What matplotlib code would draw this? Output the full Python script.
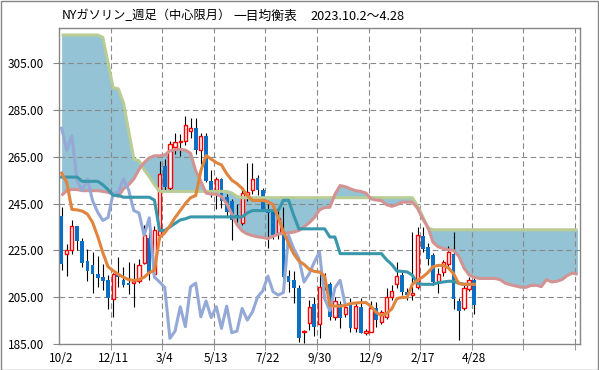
import numpy as np
import matplotlib.pyplot as plt
from matplotlib.patches import Rectangle

plt.rcParams['font.family'] = ['Noto Sans CJK JP', 'DejaVu Sans']

# title pieces (placed separately so the gaps match the original)
title_parts = ["NYガソリン_週足（中心限月）", "一目均衡表", "2023.10.2～4.28"]

# x labels, every 10 weeks
xlabels = ["10/2", "12/11", "3/4", "5/13", "7/22", "9/30", "12/9", "2/17", "4/28"]

# weekly candles (index 0..80)
opens = [239.5, 223.6, 225.0, 235.2, 229.2, 220.3, 218.6, 214.8, 213.5, 212.5,
         204.3, 214.4, 212.2, 211.0, 211.0, 211.8, 219.8, 230.2, 215.0, 231.5,
         261.2, 251.5, 269.3, 271.2, 271.8, 276.1, 277.2, 267.8, 273.9, 254.8,
         250.8, 255.5, 247.7, 246.3, 240.0, 236.6, 248.7, 250.8, 255.9, 250.8,
         242.0, 241.6, 232.4, 232.8, 213.9, 212.5, 209.1, 190.0, 193.8, 202.0,
         193.4, 209.4, 210.8, 196.6, 202.0, 198.0, 201.6, 191.7, 200.9, 189.8,
         190.2, 200.2, 194.5, 196.6, 205.1, 210.5, 214.3, 207.3, 206.0, 209.4,
         231.0, 226.4, 222.9, 211.5, 215.8, 219.3, 223.6, 203.4, 200.2, 208.3,
         212.2]
highs = [243.5, 227.8, 237.8, 235.5, 230.3, 225.6, 224.3, 222.4, 219.3, 214.5,
         215.3, 222.2, 217.9, 220.0, 219.8, 221.5, 236.0, 233.0, 235.6, 263.3,
         264.0, 271.8, 275.3, 274.6, 282.4, 281.5, 281.7, 275.3, 275.0, 259.3,
         256.5, 256.0, 249.0, 247.0, 244.9, 252.0, 262.2, 262.2, 257.0, 251.5,
         245.0, 245.0, 242.0, 243.4, 216.5, 216.0, 210.0, 190.8, 203.7, 205.0,
         215.1, 215.5, 211.5, 205.1, 203.5, 203.0, 204.5, 203.0, 204.5, 191.5,
         203.5, 203.0, 199.5, 209.0, 210.1, 220.0, 216.0, 209.0, 232.8, 234.9,
         234.9, 228.0, 224.0, 217.5, 221.0, 226.7, 232.8, 204.5, 210.0, 213.5,
         213.0]
lows = [216.5, 214.0, 223.6, 225.0, 217.9, 211.8, 206.8, 209.4, 208.0, 199.8,
        196.6, 209.4, 209.5, 206.3, 200.9, 211.0, 219.0, 212.2, 213.9, 230.0,
        250.8, 250.0, 266.1, 265.4, 270.0, 273.2, 266.1, 261.9, 254.1, 247.7,
        242.7, 243.0, 239.5, 229.5, 236.6, 236.0, 246.0, 249.0, 248.5, 242.0,
        226.0, 230.0, 229.9, 213.0, 207.3, 202.6, 186.0, 185.3, 191.0, 188.6,
        187.6, 208.0, 195.2, 195.2, 191.7, 196.5, 190.2, 190.2, 189.5, 189.0,
        190.0, 192.4, 193.5, 195.5, 204.0, 209.0, 205.9, 203.7, 203.7, 208.5,
        224.5, 218.6, 210.0, 206.6, 214.0, 218.0, 199.8, 186.7, 199.5, 207.5,
        198.0]
closes = [219.0, 225.0, 235.2, 229.0, 219.8, 216.2, 215.0, 213.4, 212.1, 204.7,
          214.7, 213.7, 210.2, 210.2, 211.8, 218.6, 231.4, 215.0, 233.9, 257.6,
          252.0, 270.4, 271.4, 271.8, 278.6, 277.2, 267.8, 273.9, 254.8, 250.5,
          255.5, 246.3, 241.3, 237.8, 239.0, 249.4, 249.8, 255.5, 250.8, 242.0,
          241.0, 231.4, 238.9, 213.6, 211.5, 209.1, 187.4, 190.5, 200.9, 192.4,
          209.4, 211.0, 196.6, 203.4, 196.3, 200.9, 191.7, 201.2, 189.8, 190.5,
          200.2, 195.2, 198.7, 205.1, 207.7, 214.0, 207.3, 205.9, 207.0, 231.4,
          225.7, 221.5, 211.5, 215.0, 220.0, 224.3, 204.4, 199.2, 209.1, 212.2,
          201.6]

# conversion line (tenkan) and base line (kijun), index 0..80
tenkan = [258.0, 254.0, 242.5, 242.3, 241.8, 240.5, 237.0, 231.0, 224.0, 218.0,
          216.3, 214.8, 213.5, 212.5, 212.2, 212.5, 213.5, 215.5, 216.5, 230.5,
          232.5, 235.5, 239.0, 242.0, 245.0, 247.5, 248.4, 259.0, 265.5, 264.0,
          262.5, 261.5, 257.8, 255.0, 253.5, 251.5, 248.5, 246.3, 246.3, 246.3,
          245.8, 244.5, 239.0, 233.0, 228.0, 223.5, 220.5, 219.0, 217.0, 216.0,
          215.8, 214.0, 201.5, 201.2, 201.2, 201.5, 202.3, 202.5, 202.7, 202.7,
          201.0, 198.5, 197.2, 198.0, 200.0, 204.4, 204.9, 205.0, 210.5, 212.2,
          213.6, 215.5, 218.0, 218.6, 218.6, 217.5, 215.0, 210.8, 210.5, 210.5,
          210.5]
kijun = [256.3, 256.3, 256.3, 256.3, 254.5, 254.5, 254.5, 254.5, 253.0, 251.0,
         248.5, 248.5, 247.7, 247.7, 247.7, 247.7, 247.7, 247.7, 246.5, 233.5,
         233.5, 235.0, 236.5, 238.0, 238.5, 239.3, 239.3, 239.3, 239.3, 239.3,
         239.3, 239.3, 239.3, 239.3, 239.3, 239.3, 241.0, 242.0, 242.0, 242.0,
         242.0, 242.0, 242.0, 246.4, 246.4, 240.0, 234.2, 234.2, 234.2, 234.2,
         234.2, 234.2, 230.7, 230.7, 223.6, 223.6, 223.6, 223.6, 223.6, 223.6,
         223.6, 223.6, 223.6, 221.0, 219.0, 216.2, 216.0, 215.8, 214.4, 210.8,
         210.5, 210.5, 210.5, 211.2, 211.5, 211.8, 211.8, 211.0, 210.5, 210.5,
         210.5]

# leading span A and B, index 0..100
span_a = [248.5, 250.5, 251.0, 251.0, 250.5, 250.5, 250.5, 250.5, 250.2, 249.8,
          249.0, 248.0, 251.3, 253.0, 255.5, 259.5, 262.5, 264.5, 265.4, 265.4,
          265.8, 267.5, 268.0, 268.2, 267.8, 266.5, 259.0, 254.5, 249.5, 249.0,
          249.0, 248.0, 245.0, 240.5, 236.0, 233.3, 232.0, 231.3, 230.8, 230.5,
          230.0, 231.0, 232.0, 232.2, 232.5, 232.8, 233.5, 235.0, 236.8, 239.0,
          242.3, 243.3, 243.4, 249.0, 252.7, 252.2, 251.3, 250.5, 250.2, 249.5,
          247.0, 246.5, 246.3, 244.5, 243.8, 244.5, 245.6, 245.6, 245.6, 243.0,
          238.5, 235.0, 228.5, 226.5, 225.8, 225.2, 225.0, 222.5, 217.5, 214.5,
          213.5, 213.0, 213.0, 213.0, 213.0, 212.5, 211.0, 210.3, 209.8, 209.3,
          209.2, 210.0, 210.1, 209.5, 212.5, 211.5, 211.8, 212.5, 214.2, 215.3,
          214.8]
span_b = [317.0, 317.0, 317.0, 317.0, 317.0, 317.0, 317.0, 317.0, 316.0, 305.0,
          294.5, 294.0, 288.0, 276.0, 264.0, 263.3, 259.5, 256.5, 253.0, 250.2,
          250.2, 250.2, 250.2, 250.2, 250.2, 250.2, 250.2, 250.2, 250.2, 250.2,
          250.2, 250.2, 250.2, 249.5, 248.0, 247.5, 247.5, 247.5, 247.5, 247.5,
          247.5, 247.5, 247.5, 247.5, 247.5, 247.5, 247.5, 247.5, 247.5, 247.5,
          247.5, 247.5, 247.5, 247.5, 247.5, 247.5, 247.5, 247.5, 247.5, 247.5,
          247.5, 247.5, 247.5, 247.5, 247.5, 247.5, 247.5, 247.5, 247.5, 244.0,
          239.5, 234.5, 233.8, 233.8, 233.8, 233.8, 233.8, 233.8, 233.8, 233.8,
          233.8, 233.8, 233.8, 233.8, 233.8, 233.8, 233.8, 233.8, 233.8, 233.8,
          233.8, 233.8, 233.8, 233.8, 233.8, 233.8, 233.8, 233.8, 233.8, 233.8,
          233.8]

# lagging span = close plotted 25 weeks back
chikou = closes[25:]

o = np.array(opens)
c = np.array(closes)
idx = np.arange(len(o))
up = c >= o

fig = plt.figure(figsize=(5.99, 3.70), dpi=100)
ax = fig.add_axes([59 / 599, 26 / 370, 521 / 599, 316 / 370])

xa = np.arange(len(span_a))
ax.fill_between(xa, span_a, span_b, color="#93c3d5", lw=0, zorder=1)

# candles
ax.vlines(idx, lows, highs, color="black", lw=0.8, zorder=3)
bottom = np.minimum(o, c)
height = np.maximum(np.abs(c - o), 0.5)
ax.bar(idx[~up], height[~up], bottom=bottom[~up], width=0.72,
       color="#0b6fc4", lw=0, zorder=4)
ax.bar(idx[up], height[up], bottom=bottom[up], width=0.62,
       facecolor="white", edgecolor="#ff0000", lw=1.0, zorder=4)

ax.plot(xa, span_b, color="#b8cc94", lw=2.2, zorder=5, solid_capstyle="butt")
ax.plot(xa, span_a, color="#d39393", lw=2.2, zorder=5, solid_capstyle="butt")
ax.plot(np.arange(len(chikou)), chikou, color="#94a9d5", lw=2.2, zorder=6)
ax.plot(idx, kijun, color="#3897aa", lw=2.2, zorder=6)
ax.plot(idx, tenkan, color="#e0843e", lw=2.2, zorder=7)

ax.set_xlim(-0.5, 100.5)
ax.set_ylim(185, 320)

yt = np.arange(185, 306, 20)
ax.set_yticks(yt)
ax.set_yticklabels(["%.2f" % v for v in yt], fontsize=8.5)
ax.set_xticks(np.arange(0, 81, 10))
ax.set_xticklabels(xlabels, fontsize=8.5)
ax.set_xticks(np.arange(9.5, 100, 10), minor=True)
ax.tick_params(axis="x", which="major", length=0, pad=6)
ax.tick_params(axis="x", which="minor", length=4, color="#868686")
ax.tick_params(axis="y", length=4, color="#868686", pad=7)

for v in yt[1:]:
    ax.axhline(v, color="#8a8a8a", lw=0.8, ls=(0, (5, 3)), zorder=2)
for v in np.arange(9.5, 100, 10):
    ax.axvline(v, color="#8a8a8a", lw=0.8, ls=(0, (5, 3)), zorder=2)

for s in ax.spines.values():
    s.set_color("#868686")
    s.set_linewidth(1.0)

ty = 1 - 16 / 370
fig.text(62 / 599, ty, title_parts[0], fontsize=8.8, ha="left", va="center")
fig.text(233 / 599, ty, title_parts[1], fontsize=9.2, ha="left", va="center")
fig.text(310 / 599, ty, title_parts[2], fontsize=9.2, ha="left", va="center")
fig.patches.append(Rectangle((0.5 / 599, 0.5 / 370), 597.5 / 599, 368.5 / 370,
                             transform=fig.transFigure, fill=False,
                             edgecolor="#868686", lw=1.0))

fig.savefig("out.png", dpi=100)
